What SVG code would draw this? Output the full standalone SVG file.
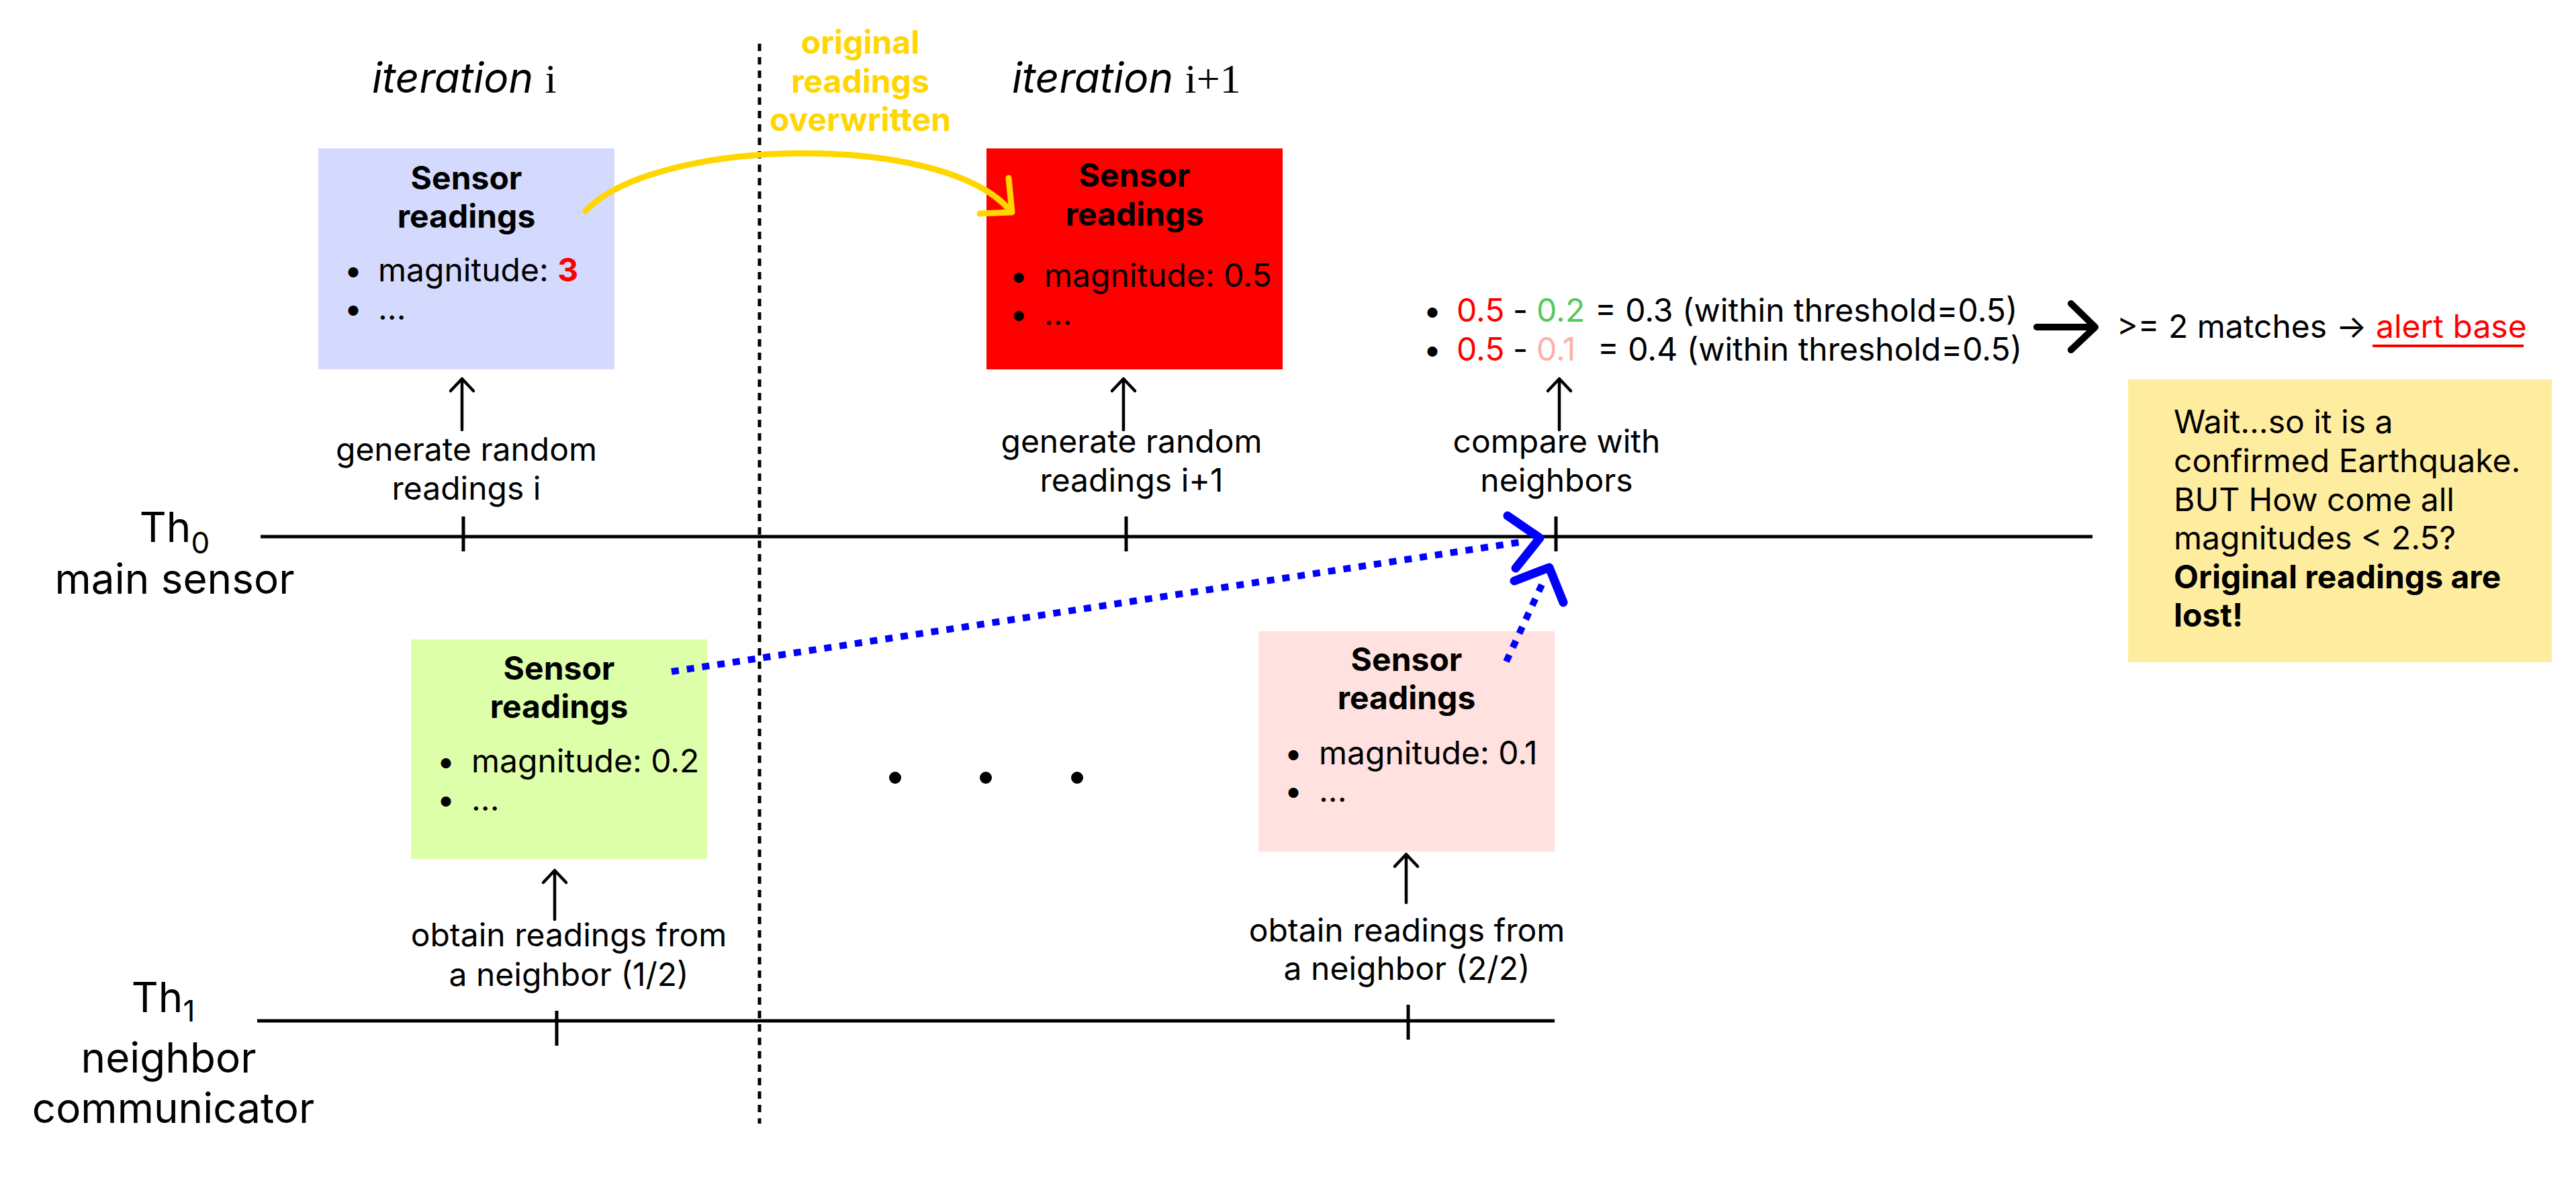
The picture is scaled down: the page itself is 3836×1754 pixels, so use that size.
<svg xmlns="http://www.w3.org/2000/svg" width="3836" height="1754" viewBox="0 0 3836 1754">
<style>
text { font-family: Inter, "Liberation Sans", sans-serif; font-size: 48px; fill: #000; }
.b { font-weight: 700; }
.c { text-anchor: middle; }
.lbl { font-size: 62px; }
.it { font-size: 62px; font-style: italic; }
.serif { font-family: "Liberation Serif", serif; font-style: normal; }
.yel { fill: #FFD600; font-weight: 700; }
.ax { stroke: #000; stroke-width: 5; fill: none; }
.tick { stroke: #000; stroke-width: 5; fill: none; }
.arr { stroke: #000; stroke-width: 4.5; fill: none; stroke-linecap: round; stroke-linejoin: round; }
.bdot { stroke: #0000FF; stroke-width: 10; stroke-dasharray: 11 12; fill: none; }
.bhead { stroke: #0000FF; stroke-width: 13; stroke-linecap: round; stroke-linejoin: round; fill: none; }
.red { fill: #FF0000; }
</style>
<rect width="3836" height="1754" fill="#fff"/>

<g id="timeline-th0">
  <line class="ax" x1="388" y1="799" x2="3116" y2="799"/>
  <line class="tick" x1="690" y1="769" x2="690" y2="821"/>
  <line class="tick" x1="1677" y1="769" x2="1677" y2="821"/>
  <line class="tick" x1="2317" y1="769" x2="2317" y2="821"/>
  <text class="lbl c" x="260" y="807">Th<tspan font-size="44" dy="17">0</tspan></text>
  <text class="lbl c" x="260" y="884">main sensor</text>
</g>

<g id="timeline-th1">
  <line class="ax" x1="383" y1="1520" x2="2315" y2="1520"/>
  <line class="tick" x1="829" y1="1505" x2="829" y2="1557"/>
  <line class="tick" x1="2097" y1="1496" x2="2097" y2="1548"/>
  <text class="lbl c" x="243" y="1507">Th<tspan font-size="44" dy="14">1</tspan></text>
  <text class="lbl c" x="251" y="1597">neighbor</text>
  <text class="lbl c" x="258" y="1672">communicator</text>
</g>

<g id="iteration-divider">
  <line x1="1131" y1="65" x2="1131" y2="1673" stroke="#000" stroke-width="5" stroke-dasharray="11 9"/>
</g>

<g id="iteration-i-label">
  <text class="it" x="554" y="138">iteration <tspan class="serif">i</tspan></text>
</g>
<g id="iteration-i1-label">
  <text class="it" x="1507" y="138">iteration <tspan class="serif">i+1</tspan></text>
</g>

<g id="overwritten-label">
  <text class="yel c" x="1281" y="80">original</text>
  <text class="yel c" x="1281" y="138">readings</text>
  <text class="yel c" x="1281" y="195">overwritten</text>
</g>

<g id="box-blue">
  <rect x="474" y="221" width="441" height="329" fill="#D3DAFE"/>
  <text class="b c" x="694.5" y="282">Sensor</text>
  <text class="b c" x="694.5" y="339">readings</text>
  <text class="c" x="526" y="419">•</text>
  <text x="563" y="419">magnitude: <tspan class="b red">3</tspan></text>
  <text class="c" x="526" y="476">•</text>
  <text x="563" y="476">...</text>
</g>

<g id="box-red">
  <rect x="1469" y="221" width="441" height="329" fill="#FF0000"/>
  <text class="b c" x="1689.5" y="278">Sensor</text>
  <text class="b c" x="1689.5" y="336">readings</text>
  <text class="c" x="1517" y="427">•</text>
  <text x="1555" y="427">magnitude: 0.5</text>
  <text class="c" x="1517" y="484">•</text>
  <text x="1555" y="484">...</text>
</g>

<g id="box-green">
  <rect x="612" y="952" width="441" height="327" fill="#DEFFAA"/>
  <text class="b c" x="832.5" y="1012">Sensor</text>
  <text class="b c" x="832.5" y="1069">readings</text>
  <text class="c" x="664" y="1150">•</text>
  <text x="702" y="1150">magnitude: 0.2</text>
  <text class="c" x="664" y="1207">•</text>
  <text x="702" y="1207">...</text>
</g>

<g id="box-pink">
  <rect x="1874" y="940" width="441" height="328" fill="#FFE1DF"/>
  <text class="b c" x="2094.5" y="999">Sensor</text>
  <text class="b c" x="2094.5" y="1056">readings</text>
  <text class="c" x="1926" y="1138">•</text>
  <text x="1964" y="1138">magnitude: 0.1</text>
  <text class="c" x="1926" y="1194">•</text>
  <text x="1964" y="1194">...</text>
</g>

<g id="ellipsis-dots">
  <circle cx="1333" cy="1158" r="9"/>
  <circle cx="1468" cy="1158" r="9"/>
  <circle cx="1604" cy="1158" r="9"/>
</g>

<g id="label-generate-i">
  <text class="c" x="694.5" y="686">generate random</text>
  <text class="c" x="694.5" y="744">readings i</text>
</g>
<g id="label-generate-i1">
  <text class="c" x="1685" y="674">generate random</text>
  <text class="c" x="1685" y="732">readings i+1</text>
</g>
<g id="label-compare">
  <text class="c" x="2318" y="674">compare with</text>
  <text class="c" x="2318" y="732">neighbors</text>
</g>
<g id="label-obtain-1">
  <text class="c" x="847" y="1409">obtain readings from</text>
  <text class="c" x="847" y="1468">a neighbor (1/2)</text>
</g>
<g id="label-obtain-2">
  <text class="c" x="2095" y="1402">obtain readings from</text>
  <text class="c" x="2095" y="1459">a neighbor (2/2)</text>
</g>

<g id="comparison-results">
  <text class="c" x="2133" y="479">•</text>
  <text y="479"><tspan x="2169" class="red">0.5</tspan><tspan x="2253">-</tspan><tspan x="2288" fill="#55C95E">0.2</tspan><tspan x="2375">= 0.3 (within threshold=0.5)</tspan></text>
  <text class="c" x="2133" y="537">•</text>
  <text y="537"><tspan x="2169" class="red">0.5</tspan><tspan x="2253">-</tspan><tspan x="2288" fill="#FFAFA8">0.1</tspan><tspan x="2379">= 0.4 (within threshold=0.5)</tspan></text>
</g>

<g id="alert-result">
  <text x="3152" y="503">&gt;= 2 matches → <tspan class="red">alert base</tspan></text>
  <line x1="3533" y1="515" x2="3758" y2="515" stroke="#FF0000" stroke-width="4"/>
</g>

<g id="note">
  <rect x="3169" y="565" width="631" height="421" fill="#FFED9F"/>
  <text x="3237" y="645">Wait...so it is a</text>
  <text x="3237" y="703">confirmed Earthquake.</text>
  <text x="3237" y="761">BUT How come all</text>
  <text x="3237" y="818">magnitudes &lt; 2.5?</text>
  <text class="b" x="3237" y="876">Original readings are</text>
  <text class="b" x="3237" y="933">lost!</text>
</g>

<g id="connectors">
  <!-- up arrows -->
  <path class="arr" d="M688,640 V564 M671,582 L688,564 L705,582"/>
  <path class="arr" d="M1673,640 V564 M1656,582 L1673,564 L1690,582"/>
  <path class="arr" d="M2322,640 V564 M2305,582 L2322,564 L2339,582"/>
  <path class="arr" d="M826,1369 V1296 M809,1314 L826,1296 L843,1314"/>
  <path class="arr" d="M2094,1344 V1272 M2077,1290 L2094,1272 L2111,1290"/>
  <!-- yellow overwrite arrow -->
  <path d="M872,314 C975,205 1400,195 1503,312" stroke="#FFD600" stroke-width="9" fill="none" stroke-linecap="round"/>
  <path d="M1502,265 L1507,316 L1459,318" stroke="#FFD600" stroke-width="9" fill="none" stroke-linecap="round" stroke-linejoin="round"/>
  <!-- blue neighbor arrows -->
  <line class="bdot" x1="1000" y1="1000" x2="2272" y2="806"/>
  <path class="bhead" d="M2245,768 L2293,801 L2257,846"/>
  <line class="bdot" x1="2243" y1="985" x2="2300" y2="862"/>
  <path class="bhead" d="M2255,865 L2307,845 L2328,897"/>
  <!-- big black arrow -->
  <path d="M3033,487 H3116 M3084,452 L3120,487 L3084,521" stroke="#000" stroke-width="10" fill="none" stroke-linecap="round" stroke-linejoin="round"/>
</g>
</svg>
